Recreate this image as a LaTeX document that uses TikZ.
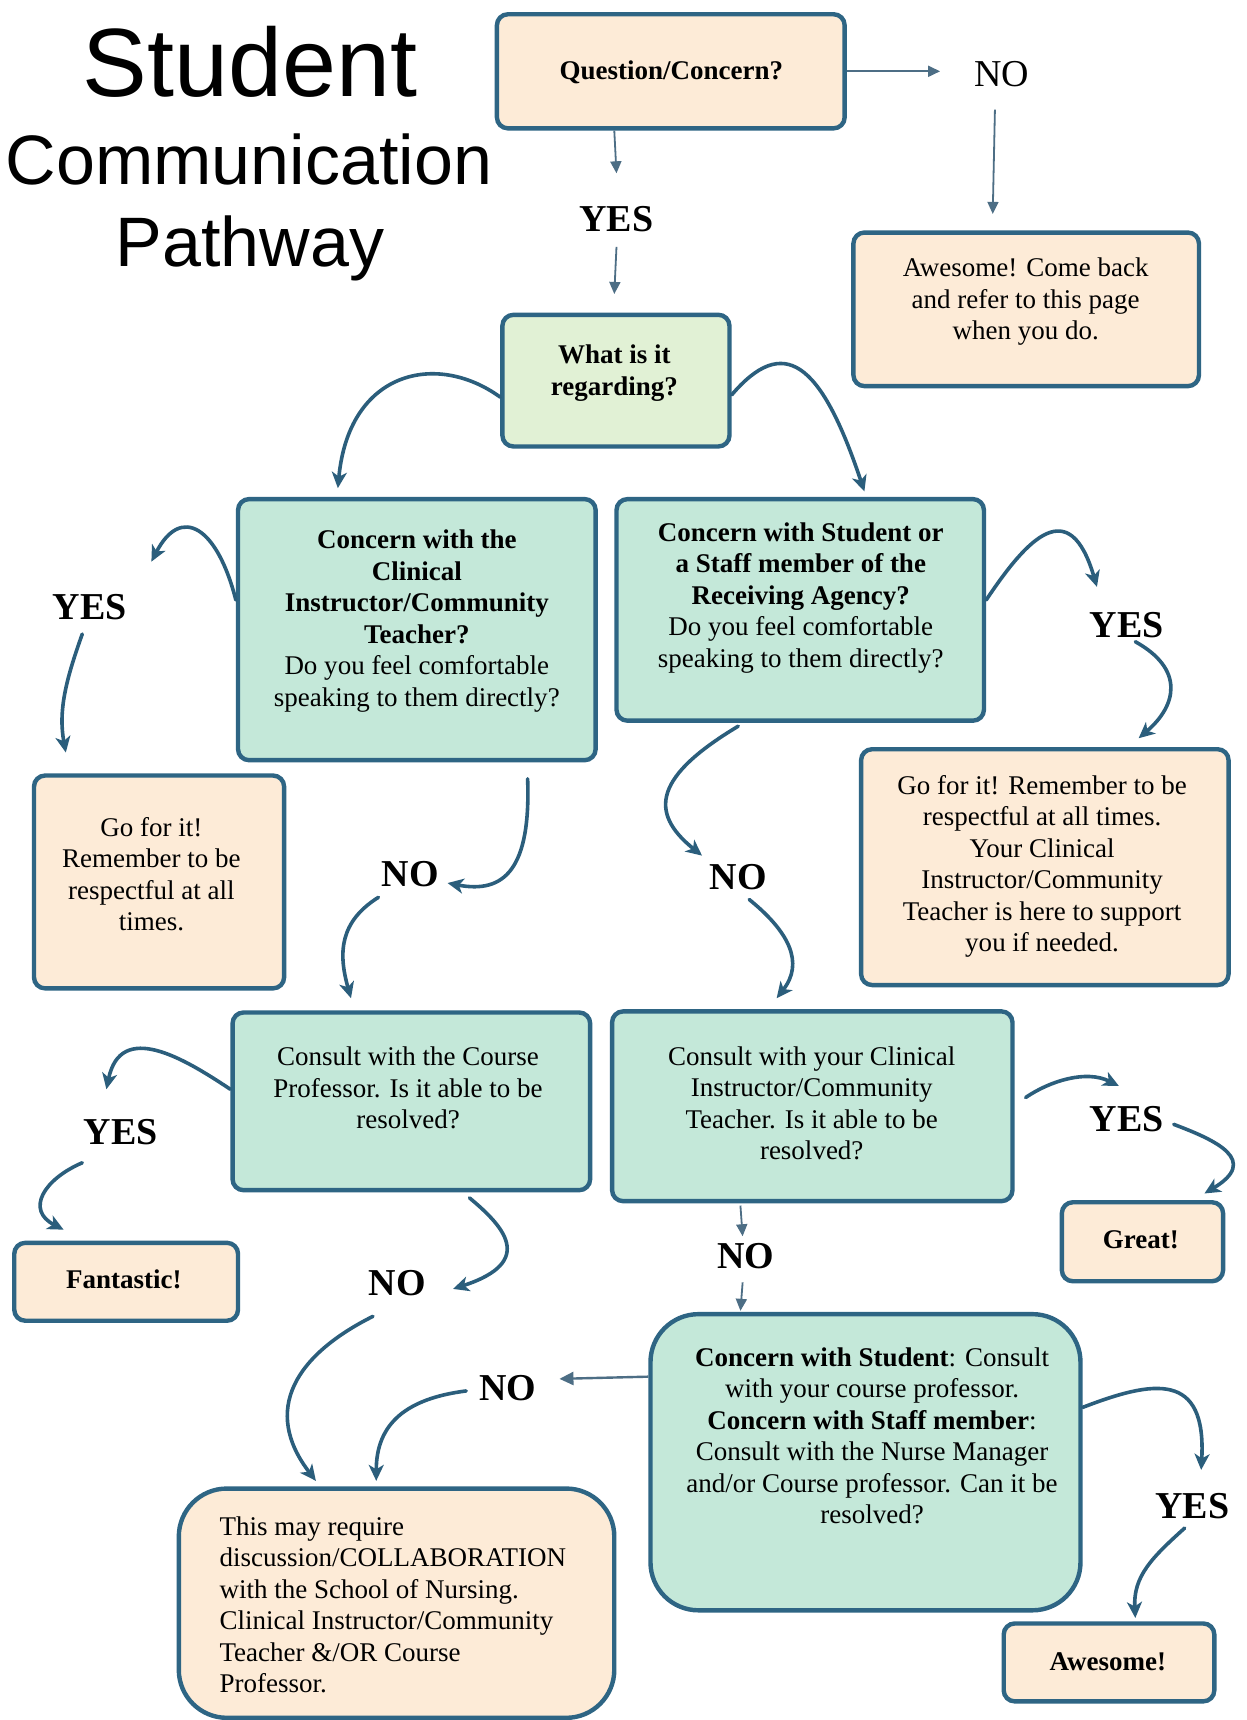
\documentclass[tikz,border=0pt]{standalone}
\usepackage{fontspec}
\setmainfont{Liberation Serif}
\newfontfamily\headfont{Liberation Sans}
\usetikzlibrary{arrows.meta,fit,calc}

\definecolor{edge}{HTML}{2E6584}
\definecolor{flowc}{HTML}{2B5E7C}
\definecolor{thinc}{HTML}{4D6E85}
\definecolor{peach}{HTML}{FDEBD7}
\definecolor{mint}{HTML}{C4E8D9}
\definecolor{pale}{HTML}{E1F1D5}

\begin{document}
\begin{tikzpicture}[x=1.0968pt,y=-1.0968pt,
  box/.style={draw=edge, line width=4.4pt, rounded corners=11pt, inner sep=0pt},
  peachbox/.style={box, fill=peach},
  mintbox/.style={box, fill=mint},
  palebox/.style={box, fill=pale},
  bigradius/.style={rounded corners=48pt},
  txt/.style={font=\fontsize{27}{31.5}\selectfont, align=center, inner sep=0pt, text=black},
  lbl/.style={font=\fontsize{38}{40}\selectfont\bfseries, inner sep=0pt, text=black},
  lblreg/.style={font=\fontsize{38}{40}\selectfont, inner sep=0pt, text=black},
  flow/.style={draw=flowc, line width=3.6pt, line cap=round,
    -{Stealth[length=16pt,width=15pt,inset=4.5pt]}},
  thin/.style={draw=thinc, line width=1.8pt,
    -{Triangle[length=12pt,width=11pt]}},
  titletxt/.style={anchor=base, inner sep=0pt, text=black}]

\useasboundingbox (0,0) rectangle (1136,1568);
\fill[white] (0,0) rectangle (1136,1568);

% ---------- title ----------
\node[titletxt, font=\headfont\fontsize{97}{100}\selectfont] (t1) at (228,88) {Student};
\node[titletxt, font=\headfont\fontsize{70}{74}\selectfont] (t2) at (227,168) {Communication};
\node[titletxt, font=\headfont\fontsize{70}{74}\selectfont] (t3) at (228,243) {Pathway};

% ---------- boxes ----------
\node[peachbox, fit={(453,13) (770,117)}] (qbox) {};
\node[peachbox, fit={(778,212) (1093,352)}] (awe) {};
\node[palebox, fit={(458,287) (665,407)}] (what) {};
\node[mintbox, fit={(217,455) (543,693)}] (ci) {};
\node[mintbox, fit={(562,455) (897,657)}] (stu) {};
\node[peachbox, fit={(31,707) (259,901)}] (goL) {};
\node[peachbox, fit={(785,683) (1120,898)}] (goR) {};
\node[mintbox, fit={(212,923) (538,1085)}] (cp) {};
\node[mintbox, fit={(558,922) (923,1095)}] (cc) {};
\node[peachbox, fit={(13,1133) (217,1204)}] (fan) {};
\node[peachbox, fit={(968,1096) (1115,1168)}] (great) {};
\node[mintbox, bigradius, fit={(593,1198) (985,1468)}] (big) {};
\node[peachbox, fit={(915,1480) (1107,1551)}] (aw2) {};
\node[peachbox, bigradius, fit={(163,1357) (560,1566)}] (may) {};

% ---------- box texts ----------
\node[txt, font=\fontsize{27}{31.5}\selectfont\bfseries] (qtxt) at (612,66) {Question/Concern?};
\node[txt] (awetxt) at (935,275) {Awesome! Come back\\and refer to this page\\when you do.};
\node[txt, font=\fontsize{27}{31.5}\selectfont\bfseries] (whattxt) at (560,340) {What is it\\regarding?};
\node[txt] (citxt) at (380,566) {\textbf{Concern with the}\\\textbf{Clinical}\\\textbf{Instructor/Community}\\\textbf{Teacher?}\\Do you feel comfortable\\speaking to them directly?};
\node[txt] (stutxt) at (730,545) {\textbf{Concern with Student or}\\\textbf{a Staff member of the}\\\textbf{Receiving Agency?}\\Do you feel comfortable\\speaking to them directly?};
\node[txt] (goLtxt) at (138,797) {Go for it!\\Remember to be\\respectful at all\\times.};
\node[txt] (goRtxt) at (950,790) {Go for it! Remember to be\\respectful at all times.\\Your Clinical\\Instructor/Community\\Teacher is here to support\\you if needed.};
\node[txt] (cptxt) at (372,992) {Consult with the Course\\Professor. Is it able to be\\resolved?};
\node[txt] (cctxt) at (740,1006) {Consult with your Clinical\\Instructor/Community\\Teacher. Is it able to be\\resolved?};
\node[txt, font=\fontsize{27}{31.5}\selectfont\bfseries] (fantxt) at (113,1166) {Fantastic!};
\node[txt, font=\fontsize{27}{31.5}\selectfont\bfseries] (greattxt) at (1040,1130) {Great!};
\node[txt] (bigtxt) at (795,1309) {\textbf{Concern with Student}: Consult\\with your course professor.\\\textbf{Concern with Staff member}:\\Consult with the Nurse Manager\\and/or Course professor. Can it be\\resolved?};
\node[txt, font=\fontsize{27}{31.5}\selectfont\bfseries] (aw2txt) at (1010,1515) {Awesome!};
\node[txt, align=left, anchor=west] (maytxt) at (200,1463) {This may require\\discussion/COLLABORATION\\with the School of Nursing.\\Clinical Instructor/Community\\Teacher \&/OR Course\\Professor.};

% ---------- answer labels ----------
\node[lblreg] (noT) at (913,68) {NO};
\node[lbl] (yesT) at (562,200) {YES};
\node[lbl] (yesL1) at (82,553) {YES};
\node[lbl] (noML) at (374,797) {NO};
\node[lbl] (noMR) at (673,800) {NO};
\node[lbl] (yesR1) at (1027,570) {YES};
\node[lbl] (yesL2) at (110,1032) {YES};
\node[lbl] (noLL) at (362,1170) {NO};
\node[lbl] (yesR2) at (1027,1020) {YES};
\node[lbl] (noM) at (680,1145) {NO};
\node[lbl] (noBL) at (463,1265) {NO};
\node[lbl] (yesR3) at (1087,1373) {YES};

% ---------- straight connectors ----------
\draw[thin] (qbox.east) -- ($(noT)+(-56,-3)$);
\draw[thin] ($(noT)+(-6,32)$) -- ($(awe.north west)+(129,-15)$);
\draw[thin] ($(qbox.south west)+(109,0)$) -- ($(yesT)+(0,-42)$);
\draw[thin] ($(yesT)+(0,25)$) -- ($(what.north west)+(104,-17)$);
\draw[thin] ($(cc.south west)+(119,2)$) -- ($(noM)+(-3,-18)$);
\draw[thin] ($(noM)+(-3,24)$) -- ($(big.north west)+(84,-1)$);
\draw[thin, line width=2.4pt, -{Triangle[length=14pt,width=13pt]}] ($(big.north west)+(0,59)$) -- ($(noBL)+(47,-8)$);

% ---------- curved connectors ----------
\draw[flow] ($(what.west)+(0,15)$) .. controls +(-58,-42) and +(10,-107) .. ($(ci.north west)+(93,-8)$);
\draw[flow] ($(what.east)+(0,13)$) .. controls +(47,-55) and +(-40,-120) .. ($(stu.north west)+(228,-5)$);
\draw[flow] ($(ci.west)+(0,-27)$) .. controls +(-17,-67) and +(27,-52) .. ($(yesL1)+(56,-41)$);
\draw[flow] ($(yesL1)+(-7,25)$) .. controls +(-15,42) and +(-7,-38) .. ($(goL.north west)+(31,-19)$);
\draw[flow] ($(ci.south west)+(266,15)$) .. controls +(3,82) and +(52,10) .. ($(noML)+(34,8)$);
\draw[flow] ($(noML)+(-29,21)$) .. controls +(-35,22) and +(-12,-42) .. ($(cp.north west)+(110,-11)$);
\draw[flow] ($(stu.south west)+(113,3)$) .. controls +(-75,45) and +(-50,-40) .. ($(noMR)+(-33,-20)$);
\draw[flow] ($(noMR)+(10,20)$) .. controls +(37,30) and +(25,-32) .. ($(cc.north west)+(152,-10)$);
\draw[flow] ($(stu.east)+(0,-9)$) .. controls +(38,-57) and +(-25,-85) .. ($(yesR1)+(-27,-35)$);
\draw[flow] ($(yesR1)+(8,15)$) .. controls +(45,25) and +(35,-30) .. ($(goR.north west)+(255,-8)$);
\draw[flow] ($(cp.west)+(0,-11)$) .. controls +(-42,-28) and +(13,-63) .. ($(yesL2)+(-13,-39)$);
\draw[flow] ($(yesL2)+(-35,28)$) .. controls +(-35,15) and +(-35,-18) .. ($(fan.north west)+(47,-10)$);
\draw[flow] ($(cp.south west)+(218,5)$) .. controls +(30,25) and +(77,-25) .. ($(noLL)+(51,5)$);
\draw[flow] ($(noLL)+(-22,30)$) .. controls +(-70,35) and +(-50,-65) .. ($(may.north west)+(127,-5)$);
\draw[flow] ($(cc.east)+(10,-8)$) .. controls +(22,-15) and +(-30,-15) .. ($(yesR2)+(-7,-30)$);
\draw[flow] ($(yesR2)+(43,5)$) .. controls +(40,15) and +(50,-30) .. ($(great.north west)+(132,-6)$);
\draw[flow] ($(noBL)+(-38,3)$) .. controls +(-55,7) and +(0,-52) .. ($(may.north west)+(182,-5)$);
\draw[flow] ($(big.north east)+(0,87)$) .. controls +(65,-25) and +(5,-90) .. ($(yesR3)+(8,-33)$);
\draw[flow] ($(yesR3)+(-7,20)$) .. controls +(-30,27) and +(-2,-38) .. ($(aw2.north west)+(122,-3)$);
\end{tikzpicture}
\end{document}
